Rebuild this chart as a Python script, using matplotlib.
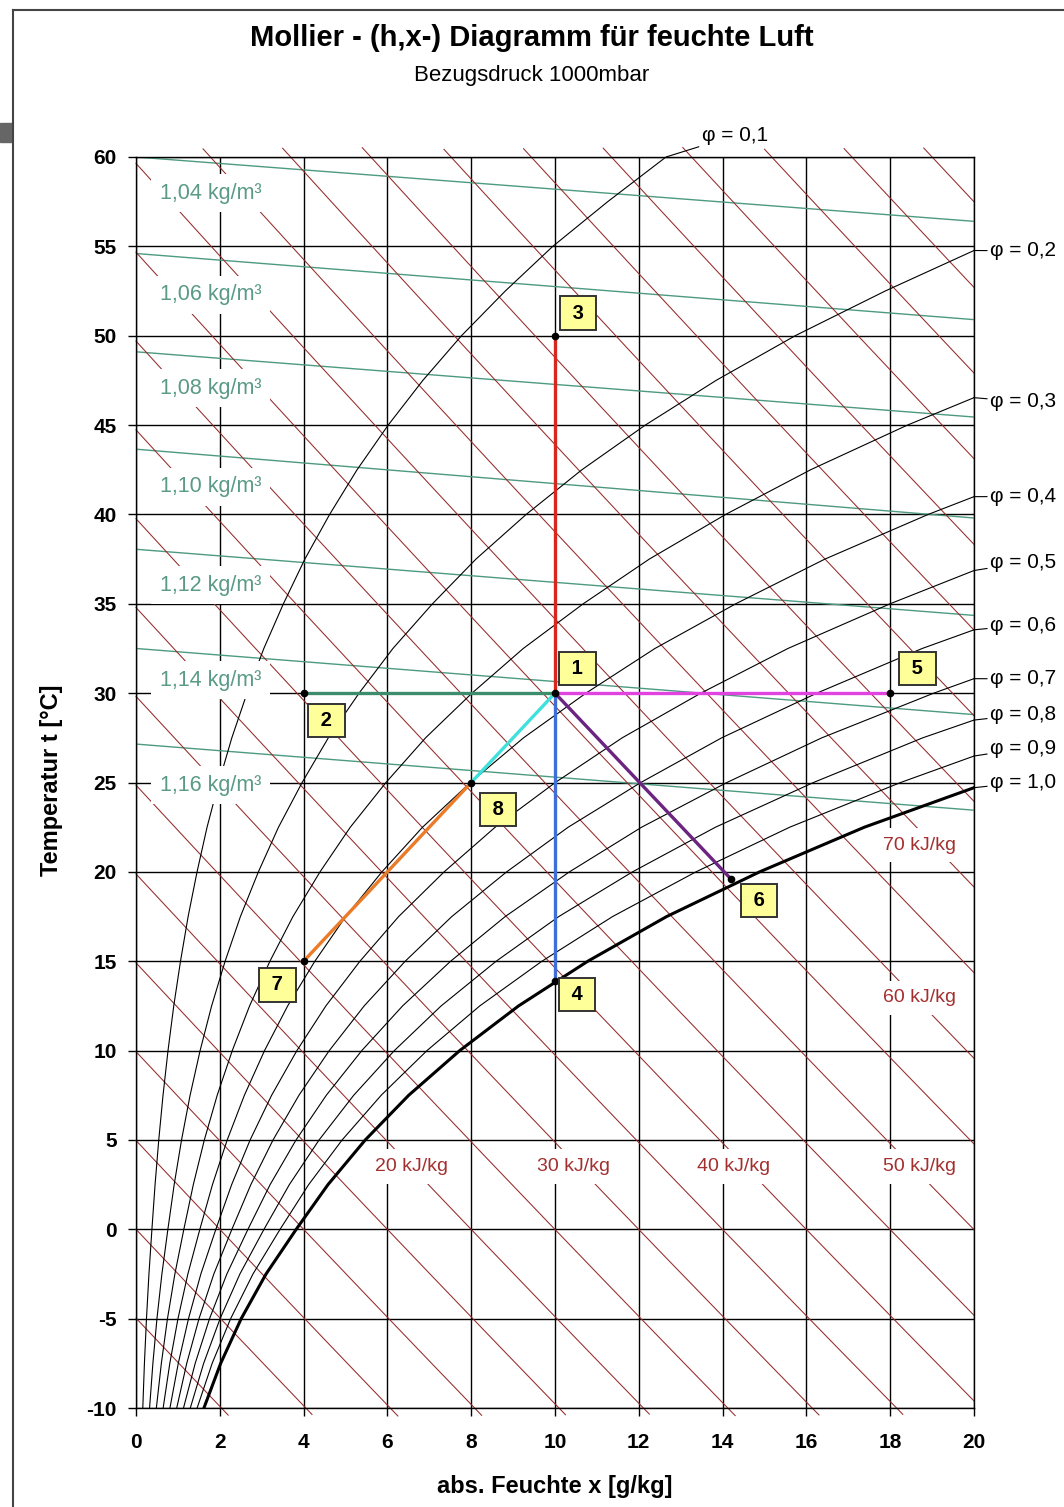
import numpy as np
import matplotlib.pyplot as plt
from matplotlib.lines import Line2D
from matplotlib.patches import Rectangle

plt.rcParams['font.family'] = ['Liberation Sans', 'DejaVu Sans']
plt.rcParams['axes.unicode_minus'] = False

# temperature steps for the humidity curves [°C]
temps = [-10, -7.5, -5, -2.5, 0, 2.5, 5, 7.5, 10, 12.5, 15, 17.5, 20, 22.5, 25,
         27.5, 30, 32.5, 35, 37.5, 40, 42.5, 45, 47.5, 50, 52.5, 55, 57.5, 60]

# abs. humidity x [g/kg] along each phi curve (read at the temps above)
phi_01 = [0.162, 0.201, 0.250, 0.309, 0.380, 0.455, 0.543, 0.645, 0.764, 0.901, 1.062, 1.244,
          1.457, 1.696, 1.976, 2.287, 2.650, 3.051, 3.518, 4.030, 4.621, 5.276, 6.019, 6.846,
          7.768, 8.813, 9.947, 11.258, 12.649]
phi_02 = [0.324, 0.403, 0.500, 0.618, 0.761, 0.911, 1.087, 1.291, 1.530, 1.805, 2.127, 2.492,
          2.921, 3.401, 3.965, 4.590, 5.324, 6.132, 7.076, 8.113, 9.312, 10.642, 12.156, 13.845,
          15.733, 17.880, 20.217, 22.931, 25.82]
phi_03 = [0.486, 0.605, 0.751, 0.928, 1.142, 1.368, 1.631, 1.938, 2.298, 2.711, 3.196, 3.746,
          4.392, 5.115, 5.966, 6.911, 8.019, 9.243, 10.674, 12.250, 14.073, 16.101, 18.413,
          21.001, 23.902]
phi_04 = [0.648, 0.807, 1.002, 1.238, 1.524, 1.825, 2.177, 2.587, 3.068, 3.620, 4.269, 5.005,
          5.869, 6.839, 7.981, 9.249, 10.739, 12.386, 14.314, 16.441, 18.907, 21.655, 24.796]
phi_05 = [0.810, 1.009, 1.253, 1.548, 1.906, 2.283, 2.724, 3.237, 3.840, 4.532, 5.345, 6.269,
          7.354, 8.573, 10.008, 11.604, 13.482, 15.560, 17.997, 20.688, 23.814]
phi_06 = [0.972, 1.211, 1.504, 1.858, 2.289, 2.741, 3.271, 3.889, 4.613, 5.446, 6.425, 7.537,
          8.846, 10.316, 12.048, 13.978, 16.249, 18.765, 21.722, 24.992]
phi_07 = [1.134, 1.413, 1.755, 2.169, 2.672, 3.201, 3.820, 4.542, 5.389, 6.363, 7.509, 8.812,
          10.345, 12.068, 14.102, 16.368, 19.040, 22.004, 25.490]
phi_08 = [1.296, 1.615, 2.007, 2.480, 3.055, 3.660, 4.370, 5.196, 6.166, 7.283, 8.596, 10.091,
          11.850, 13.831, 16.169, 18.777, 21.855]
phi_09 = [1.459, 1.818, 2.259, 2.792, 3.439, 4.121, 4.920, 5.852, 6.945, 8.205, 9.688, 11.375,
          13.364, 15.603, 18.249, 21.205, 24.696]
phi_10 = [1.621, 2.021, 2.511, 3.104, 3.824, 4.582, 5.472, 6.509, 7.727, 9.131, 10.783, 12.665,
          14.884, 17.385, 20.343]

phi_curves = [phi_01, phi_02, phi_03, phi_04, phi_05, phi_06, phi_07, phi_08, phi_09, phi_10]
phi_names = ["φ = 0,1", "φ = 0,2", "φ = 0,3", "φ = 0,4", "φ = 0,5",
             "φ = 0,6", "φ = 0,7", "φ = 0,8", "φ = 0,9", "φ = 1,0"]
phi_label_y = [61.2, 54.75, 46.3, 41.0, 37.3, 33.8, 30.8, 28.8, 26.9, 25.0]

# enthalpy lines [kJ/kg]
h_lines = list(range(-5, 115, 5))
h_names = ["20 kJ/kg", "30 kJ/kg", "40 kJ/kg", "50 kJ/kg", "60 kJ/kg", "70 kJ/kg"]
h_label_x = [6.58, 10.43, 14.25, 18.7, 18.7, 18.7]
h_label_y = [3.5, 3.5, 3.5, 3.5, 12.95, 21.5]

# density lines: temperature where they hit x=0 and x=20
rho_names = ["1,04 kg/m³", "1,06 kg/m³", "1,08 kg/m³", "1,10 kg/m³",
             "1,12 kg/m³", "1,14 kg/m³", "1,16 kg/m³"]
rho_t_left = [60.0, 54.6, 49.1, 43.65, 38.05, 32.5, 27.15]
rho_t_right = [56.4, 50.9, 45.45, 39.8, 34.35, 28.8, 23.45]
rho_label_y = [57.97, 52.28, 47.06, 41.55, 36.05, 30.73, 24.86]

# state points
pt_names = ['1', '2', '3', '4', '5', '6', '7', '8']
pt_x = [10, 4, 10, 10, 18, 14.2, 4, 8]
pt_t = [30, 30, 50, 13.9, 30, 19.6, 15, 25]
box_x = [10.54, 4.54, 10.55, 10.52, 18.65, 14.87, 3.38, 8.64]
box_y = [31.4, 28.45, 51.27, 13.15, 31.4, 18.42, 13.67, 23.5]

seg_from = ['1', '1', '1', '1', '1', '1', '8']
seg_to = ['2', '3', '4', '5', '6', '8', '7']
seg_colors = ['#3d8c6c', '#d8271f', '#3d6fd6', '#e043e0', '#6b2480', '#40e0dc', '#ea7b28']

fig = plt.figure(figsize=(10.64, 15.07), dpi=100)
ax = fig.add_axes([136 / 1064, 1 - 1408 / 1507, 838 / 1064, 1251 / 1507])

ax.set_xlim(0, 20)
ax.set_ylim(-10, 60)
ax.set_xticks(np.arange(0, 21, 2))
ax.set_yticks(np.arange(-10, 61, 5))
ax.set_axisbelow(True)
ax.grid(True, color='black', lw=1.0)
ax.tick_params(direction='out', length=6, width=1, color='black', labelsize=15)
ax.tick_params(axis='x', pad=12)
ax.tick_params(axis='y', pad=8)
for lbl in ax.get_xticklabels() + ax.get_yticklabels():
    lbl.set_fontweight('bold')
for sp in ax.spines.values():
    sp.set_linewidth(1.0)

# density lines
for tl, tr in zip(rho_t_left, rho_t_right):
    ax.plot([0, 20], [tl, tr], color='#4d9a80', lw=1.0, zorder=1.5)

# enthalpy lines (run a little past the frame, like the original)
xs = np.linspace(0, 20, 401)
for h in h_lines:
    ts = (h - 2.501 * xs) / (1.006 + 0.00186 * xs)
    m = (ts >= -10.45) & (ts <= 60.55)
    ax.plot(xs[m], ts[m], color='#962a2a', lw=0.75, zorder=1.6, clip_on=False)

# relative humidity curves
for i, cur in enumerate(phi_curves):
    lw = 2.2 if i == len(phi_curves) - 1 else 0.8
    ax.plot(cur, temps[:len(cur)], color='black', lw=lw, zorder=2)

# phi labels
for i, cur in enumerate(phi_curves):
    if i == 0:
        anchor = (cur[-1], 60)
        xt = 13.5
    else:
        anchor = (20, float(np.interp(20, cur, temps[:len(cur)])))
        xt = 20.38
    ax.annotate(phi_names[i], xy=anchor, xytext=(xt, phi_label_y[i]),
                fontsize=15, va='center', ha='left', annotation_clip=False,
                arrowprops=dict(arrowstyle='-', lw=0.8, color='black',
                                shrinkA=0, shrinkB=0))

# density labels
for name, y in zip(rho_names, rho_label_y):
    ax.text(0.57, y, name, color='#5a9a86', fontsize=15.5, va='center', ha='left', zorder=4,
            bbox=dict(boxstyle='square,pad=0.4', facecolor='white', edgecolor='none'))

# enthalpy labels
for name, x, y in zip(h_names, h_label_x, h_label_y):
    ax.text(x, y, name, color='#a3302f', fontsize=14, va='center', ha='center', zorder=4,
            bbox=dict(boxstyle='square,pad=0.45', facecolor='white', edgecolor='none'))

# process lines
px = dict(zip(pt_names, pt_x))
pt = dict(zip(pt_names, pt_t))
for a, b, c in zip(seg_from, seg_to, seg_colors):
    ax.plot([px[a], px[b]], [pt[a], pt[b]], color=c, lw=2.4, zorder=5, solid_capstyle='butt')
ax.plot(pt_x, pt_t, 'o', color='black', ms=4.5, zorder=6)

for name, x, y in zip(pt_names, box_x, box_y):
    ax.text(x, y, ' ' + name + ' ', fontsize=14.5, fontweight='bold', ha='center', va='center',
            zorder=7, bbox=dict(boxstyle='square,pad=0.35', facecolor='#ffff99',
                                edgecolor='#333333', lw=1.4))

# titles and axis labels
fig.text(0.5, 1 - 38 / 1507, 'Mollier - (h,x-) Diagramm für feuchte Luft',
         ha='center', va='center', fontsize=21, fontweight='bold')
fig.text(0.5, 1 - 75 / 1507, 'Bezugsdruck 1000mbar', ha='center', va='center', fontsize=16)
fig.text(555 / 1064, 1 - 1487 / 1507, 'abs. Feuchte x [g/kg]', ha='center', va='center',
         fontsize=17, fontweight='bold')
fig.text(52 / 1064, 1 - 780 / 1507, 'Temperatur t [°C]', ha='center', va='center',
         fontsize=17, fontweight='bold', rotation=90)

# window frame of the screenshot
fig.add_artist(Line2D([13 / 1064, 13 / 1064], [0, 1 - 10 / 1507], color='#444444', lw=1.5))
fig.add_artist(Line2D([13 / 1064, 1], [1 - 10 / 1507, 1 - 10 / 1507], color='#444444', lw=1.5))
fig.add_artist(Rectangle((0, 1 - 142 / 1507), 12 / 1064, 19 / 1507, color='#666666'))

fig.savefig('out.png', dpi=100)
